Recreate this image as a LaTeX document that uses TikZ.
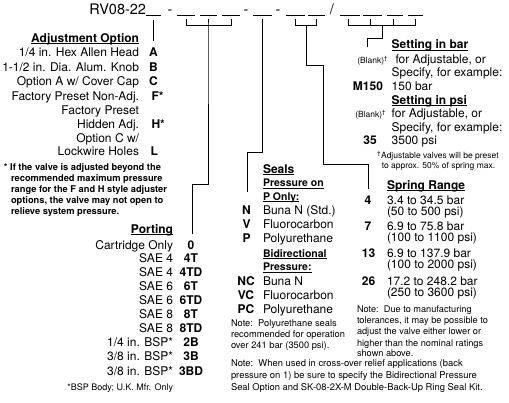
\documentclass[tikz,border=0pt]{standalone}
\usepackage{fontspec}
\setmainfont{TeX Gyre Heros}
\newcommand\myul[1]{\setbox0\hbox{#1}\rlap{\rule[-2.2pt]{\wd0}{0.9pt}}\box0}
\tikzset{
  base/.style={inner sep=0pt, outer sep=0pt},
  lab/.style={base, anchor=base east, font=\fontsize{12}{14}\selectfont},
  txt/.style={base, anchor=base west, font=\fontsize{12}{14}\selectfont},
  code/.style={base, anchor=base west, font=\fontsize{12}{14}\selectfont\bfseries},
  ccode/.style={base, anchor=base, font=\fontsize{12}{14}\selectfont\bfseries},
  head/.style={base, font=\fontsize{12}{14}\selectfont\bfseries},
  subhead/.style={base, anchor=base west, font=\fontsize{10.5}{12}\selectfont\bfseries},
  note/.style={base, anchor=base west, font=\fontsize{9.3}{11}\selectfont},
  fnote/.style={base, anchor=base west, font=\fontsize{9.3}{11}\selectfont\bfseries},
  small/.style={base, font=\fontsize{8.5}{10}\selectfont},
  ttl/.style={base, anchor=base, font=\fontsize{14.5}{16}\selectfont},
  conn/.style={line width=0.8pt},
  blank/.style={line width=0.9pt},
}
\begin{document}
\begin{tikzpicture}[x=1pt,y=-1pt]
\useasboundingbox (0,0) rectangle (509,402);
\fill[white] (0,0) rectangle (509,402);

% ---------- title line ----------
\node[ttl, anchor=base east] (title) at (146,14.5) {RV08-22};
\foreach \a/\b in {146/161,177/195,200/217,222/240,253/272,286/305,308/325,340/360,363/382,387/403,408/423}
  \draw[blank] (\a,15.6) -- (\b,15.6);
\node[ttl] (d1) at (170,14.5) {-};
\node[ttl] (d2) at (246,14.5) {-};
\node[ttl] (d3) at (278,14.5) {-};
\node[ttl] (sl) at (332,14.5) {/};

% ---------- connectors ----------
% adjustment
\coordinate (ua) at (153.5,19.5);
\coordinate (ub) at (153.5,41);
\draw[conn] (ua) -- (ub);
% porting
\coordinate (pa) at (186,19);
\coordinate (pb) at (208,19);
\coordinate (pc) at (231,19);
\coordinate (pbar) at (208,25.5);
\coordinate (pk1) at (208,184.5);
\coordinate (pk2) at (192,184.5);
\coordinate (pend) at (192,233.5);
\draw[conn] (pa) |- (pbar) -| (pc);
\draw[conn] (pb) -- (pbar) -- (pk1) -- (pk2) -- (pend);
% seals
\coordinate (sa) at (262.5,18.5);
\coordinate (sk1) at (262.5,152.5);
\coordinate (sk2) at (247.5,152.5);
\coordinate (send) at (247.5,192);
\draw[conn] (sa) -- (sk1) -- (sk2) -- (send);
% spring
\coordinate (ra) at (295.5,19);
\coordinate (rb) at (316.5,19);
\coordinate (rbar) at (306,25.5);
\coordinate (rk1) at (306,65);
\coordinate (rk2) at (323.5,65);
\coordinate (rk3) at (323.5,164);
\coordinate (rk4) at (368,164);
\coordinate (rend) at (368,188.5);
\draw[conn] (ra) |- (rbar) -| (rb);
\draw[conn] (rbar) -- (rk1) -- (rk2) -- (rk3) -- (rk4) -- (rend);
% setting
\coordinate (ta) at (348,19);
\coordinate (tb) at (370.5,19);
\coordinate (tc) at (393,19);
\coordinate (td) at (415.5,19);
\coordinate (tbar) at (382.5,25.5);
\coordinate (tk1) at (382.5,38.5);
\coordinate (tk2) at (367,38.5);
\coordinate (tend) at (367,47);
\draw[conn] (ta) |- (tbar) -| (td);
\draw[conn] (tb) -- (tb |- tbar);
\draw[conn] (tc) -- (tc |- tbar);
\draw[conn] (tbar) -- (tk1) -- (tk2) -- (tend);

% ---------- adjustment option ----------
\node[head, anchor=base east] (adjh) at (139,42) {\myul{Adjustment Option}};
\node[lab] (a1) at (139,56.7) {1/4 in. Hex Allen Head};
\node[code] (cA) at (149,56.7) {A};
\node[lab] (a2) at (139,71) {1-1/2 in. Dia. Alum. Knob};
\node[code] (cB) at (149,71) {B};
\node[lab] (a3) at (139,85.5) {Option A w/ Cover Cap};
\node[code] (cC) at (149,85.5) {C};
\node[lab] (a4) at (139,100) {Factory Preset Non-Adj.};
\node[code] (cF) at (151.5,100) {F*};
\node[lab] (a5) at (139,114.2) {Factory Preset};
\node[lab] (a6) at (139,128.3) {Hidden Adj.};
\node[code] (cH) at (151.5,128.3) {H*};
\node[lab] (a7) at (139,142.3) {Option C w/};
\node[lab] (a8) at (139,155.3) {Lockwire Holes};
\node[code] (cL) at (150.5,155.3) {L};

\node[fnote] (fn1) at (4,170) {* If the valve is adjusted beyond the};
\node[fnote] (fn2) at (11,181.2) {recommended maximum pressure};
\node[fnote] (fn3) at (11,192.4) {range for the F and H style adjuster};
\node[fnote] (fn4) at (11,203.6) {options, the valve may not open to};
\node[fnote] (fn5) at (11,214.8) {relieve system pressure.};

% ---------- porting ----------
\node[head, anchor=base east] (porth) at (173,233) {\myul{Porting}};
\foreach \n/\l/\c/\y in {p0/Cartridge Only/0/249, p1/SAE 4/4T/262, p2/SAE 4/4TD/276.3, p3/SAE 6/6T/290.5, p4/SAE 6/6TD/304.7, p5/SAE 8/8T/318.7, p6/SAE 8/8TD/332.7, p7/1\slash4 in. BSP*/2B/346.8, p8/3\slash8 in. BSP*/3B/360.9, p9/3\slash8 in. BSP*/3BD/375}
{
  \node[lab] (\n l) at (173,\y) {\l};
  \node[ccode] (\n c) at (191,\y) {\c};
}
\node[small, anchor=base east, font=\fontsize{9}{10}\selectfont] (bsp) at (173,390.5) {*BSP Body; U.K. Mfr. Only};

% ---------- seals ----------
\node[head, anchor=base west] (sealh) at (263,173) {\myul{Seals}};
\node[subhead] (s1) at (263,186.5) {\myul{Pressure on}};
\node[subhead] (s2) at (263,200) {\myul{P Only:}};
\node[ccode] (sN) at (246.5,214) {N};
\node[txt] (sNl) at (263,214) {Buna N (Std.)};
\node[ccode] (sV) at (246.5,228.2) {V};
\node[txt] (sVl) at (263,228.2) {Fluorocarbon};
\node[ccode] (sP) at (246.5,242.4) {P};
\node[txt] (sPl) at (263,242.4) {Polyurethane};
\node[subhead] (s3) at (263,257) {\myul{Bidirectional}};
\node[subhead] (s4) at (263,270.5) {\myul{Pressure:}};
\node[ccode] (sNC) at (246,285) {NC};
\node[txt] (sNCl) at (263,285) {Buna N};
\node[ccode] (sVC) at (246,299.2) {VC};
\node[txt] (sVCl) at (263,299.2) {Fluorocarbon};
\node[ccode] (sPC) at (246,313.5) {PC};
\node[txt] (sPCl) at (263,313.5) {Polyurethane};
\node[note] (sn1) at (231,326.5) {Note:\ \ Polyurethane seals};
\node[note] (sn2) at (231,337.3) {recommended for operation};
\node[note] (sn3) at (231,348.1) {over 241 bar (3500 psi).};

\node[note, font=\fontsize{9.4}{11}\selectfont] (bn1) at (231,366.3) {Note:\ \ When used in cross-over relief applications (back};
\node[note, font=\fontsize{9.4}{11}\selectfont] (bn2) at (231,378.3) {pressure on 1) be sure to specify the Bidirectional Pressure};
\node[note, font=\fontsize{9.4}{11}\selectfont] (bn3) at (231,390.3) {Seal Option and SK-08-2X-M Double-Back-Up Ring Seal Kit.};

% ---------- spring range ----------
\node[head, anchor=base west] (sprh) at (387,189) {\myul{Spring Range}};
\node[ccode] (r4) at (368,204.3) {4};
\node[txt] (r4a) at (387,204.3) {3.4 to 34.5 bar};
\node[txt] (r4b) at (387,215.5) {(50 to 500 psi)};
\node[ccode] (r7) at (368,230) {7};
\node[txt] (r7a) at (387,230) {6.9 to 75.8 bar};
\node[txt] (r7b) at (387,241.5) {(100 to 1100 psi)};
\node[ccode] (r13) at (368.5,257) {13};
\node[txt] (r13a) at (387,257) {6.9 to 137.9 bar};
\node[txt] (r13b) at (387,268.8) {(100 to 2000 psi)};
\node[ccode] (r26) at (368.5,285) {26};
\node[txt] (r26a) at (387,285) {17.2 to 248.2 bar};
\node[txt] (r26b) at (387,296.8) {(250 to 3600 psi)};
\node[note, font=\fontsize{9.2}{11}\selectfont] (rn1) at (357,312.3) {Note:\ \ Due to manufacturing};
\node[note, font=\fontsize{9.2}{11}\selectfont] (rn2) at (357,323.6) {tolerances, it may be possible to};
\node[note, font=\fontsize{9.2}{11}\selectfont] (rn3) at (357,334.9) {adjust the valve either lower or};
\node[note, font=\fontsize{9.2}{11}\selectfont] (rn4) at (357,346.2) {higher than the nominal ratings};
\node[note, font=\fontsize{9.2}{11}\selectfont] (rn5) at (357,356.5) {shown above.};

% ---------- setting ----------
\node[head, anchor=base west] (setb) at (391.7,48.5) {\myul{Setting in bar}};
\node[small, anchor=base east] (bl1) at (388,63.2) {(Blank)\textsuperscript{†}};
\node[txt] (bl1t) at (395.5,63.2) {for Adjustable, or};
\node[txt] (sp1) at (391.7,76.8) {Specify, for example:};
\node[code, anchor=base east] (m150) at (383,90.5) {M150};
\node[txt] (m150t) at (391.7,90.5) {150 bar};
\node[head, anchor=base west] (setp) at (391.7,104) {\myul{Setting in psi}};
\node[small, anchor=base east] (bl2) at (386,117.8) {(Blank)\textsuperscript{†}};
\node[txt] (bl2t) at (391.7,117.8) {for Adjustable, or};
\node[txt] (sp2) at (391.7,131.3) {Specify, for example:};
\node[ccode] (c35) at (370,144.8) {35};
\node[txt] (c35t) at (391.7,144.8) {3500 psi};
\node[small, anchor=base] (dg1) at (438,158.3) {\textsuperscript{†}Adjustable valves will be preset};
\node[small, anchor=base] (dg2) at (438.5,168.6) {to approx. 50\% of spring max.};
\end{tikzpicture}
\end{document}
